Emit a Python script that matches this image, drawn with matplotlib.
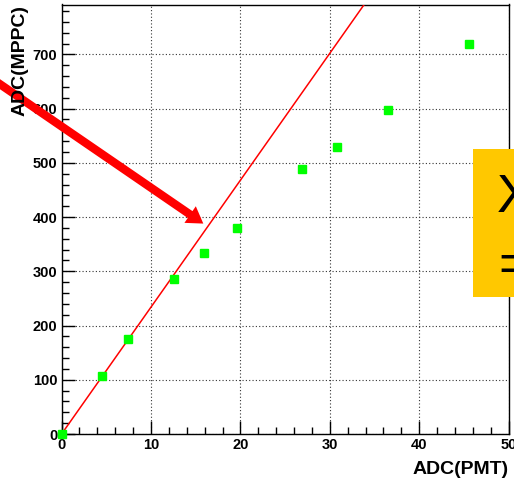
import numpy as np
import matplotlib
matplotlib.use("Agg")
import matplotlib.pyplot as plt
from matplotlib.ticker import MultipleLocator
from matplotlib.patches import Rectangle

adc_pmt = [0.0, 4.5, 7.4, 12.6, 15.9, 19.6, 26.9, 30.8, 36.5, 45.6]
adc_mppc = [0, 107, 175, 285, 333, 380, 488, 530, 597, 720]

# straight line through the origin
fit_slope = 23.4
fit_x = [0.0, 50.0]

# pointer arrow (data coords, tail sits off the left edge)
arrow_tail = (-9.1, 670)
arrow_tip = (15.85, 388)

x_limits = (0, 50)
y_limits = (0, 792)
x_ticks = [0, 10, 20, 30, 40, 50]
y_ticks = [0, 100, 200, 300, 400, 500, 600, 700]

plt.rcParams['font.family'] = ['Liberation Sans', 'DejaVu Sans']

W, H = 514, 478
fig = plt.figure(figsize=(W / 100, H / 100), dpi=100)
ax = fig.add_axes([61.6 / W, 44 / H, 447 / W, 429.5 / H])

ax.set_xlim(*x_limits)
ax.set_ylim(*y_limits)
ax.set_xticks(x_ticks)
ax.set_yticks(y_ticks)
ax.xaxis.set_minor_locator(MultipleLocator(2))
ax.yaxis.set_minor_locator(MultipleLocator(20))

ax.tick_params(which='both', direction='in', top=False, right=False,
               width=1.0, color='black')
ax.tick_params(which='major', length=9.5, labelsize=10.5, pad=3)
ax.tick_params(which='minor', length=4.7)
for lab in ax.get_xticklabels() + ax.get_yticklabels():
    lab.set_fontweight('bold')

for sp in ax.spines.values():
    sp.set_linewidth(1.0)
    sp.set_color('black')

ax.grid(True, which='major', color='#333333', linestyle=(0, (1, 2)),
        linewidth=0.8)
ax.set_axisbelow(True)

# fit line
fit_y = [fit_slope * v for v in fit_x]
ax.plot(fit_x, fit_y, color='red', linewidth=1.1, zorder=3)

# data points
ax.plot(adc_pmt, adc_mppc, linestyle='none', marker='s', markersize=6,
        color='#00ff00', markeredgecolor='#00ff00', zorder=4, clip_on=False)

# big red arrow
ax.annotate('', xy=arrow_tip, xytext=arrow_tail, xycoords='data',
            textcoords='data', annotation_clip=False,
            arrowprops=dict(arrowstyle='simple,head_length=1.15,head_width=1.45,tail_width=0.6',
                            mutation_scale=10, color='red', lw=0,
                            shrinkA=0, shrinkB=0, clip_on=False))

# axis titles (ROOT style, at the ends of the axes)
fig.text(20 / W, 1 - 5 / H, 'ADC(MPPC)', rotation=90, ha='center', va='top',
         fontsize=14, fontweight='bold')
fig.text(508.5 / W, (H - 474) / H, 'ADC(PMT)', ha='right', va='baseline',
         fontsize=14, fontweight='bold')

# yellow text box cut by the right edge
box = Rectangle((472.7 / W, (H - 296.7) / H), 0.2, (296.7 - 149) / H,
                transform=fig.transFigure, facecolor='#ffc800',
                edgecolor='none', zorder=5)
fig.patches.append(box)
fig.text(496.5 / W, (H - 212) / H, 'X', ha='left', va='baseline',
         fontsize=39, zorder=6)
fig.text(498 / W, (H - 281) / H, '=', ha='left', va='baseline',
         fontsize=39, zorder=6)

fig.savefig('out.png', dpi=100)
